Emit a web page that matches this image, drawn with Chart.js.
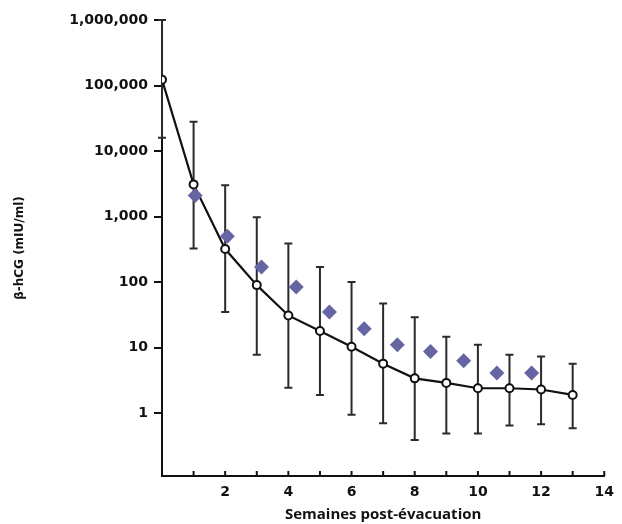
<!DOCTYPE html>
<html>
<head>
<meta charset="utf-8">
<script src="https://cdn.jsdelivr.net/npm/chart.js@4.4.0/dist/chart.umd.min.js"></script>
<style>
  html, body { margin: 0; padding: 0; background: #fff; }
  #wrap { width: 622px; height: 524px; position: relative; }
</style>
</head>
<body>
<div id="wrap"><canvas id="hcgChart"></canvas></div>
<script>
// semaines post-évacuation
const weeks = [0, 1, 2, 3, 4, 5, 6, 7, 8, 9, 10, 11, 12, 13];
// moyenne β-hCG (mIU/ml)
const meanHcg = [123000, 3100, 320, 90, 31, 18, 10.3, 5.7, 3.4, 2.9, 2.4, 2.4, 2.3, 1.9];
const upperHcg = [1000000, 28000, 3000, 980, 390, 170, 100, 47, 29, 14.7, 11.1, 7.8, 7.3, 5.7];
const lowerHcg = [16000, 325, 35, 7.8, 2.45, 1.9, 0.95, 0.7, 0.39, 0.49, 0.49, 0.65, 0.68, 0.59];
// patiente (losanges)
const patientWeeks = [1.05, 2.07, 3.15, 4.25, 5.3, 6.4, 7.45, 8.5, 9.55, 10.6, 11.7];
const patientHcg = [2100, 500, 170, 84, 35, 19.5, 11.1, 8.7, 6.3, 4.1, 4.1];
const yTickValues = [1, 10, 100, 1000, 10000, 100000, 1000000];

const TICK_FONT = { family: "'DejaVu Sans', sans-serif", size: 14, weight: 'bold' };

const errorBarsPlugin = {
    id: 'errorBars',
    beforeDatasetsDraw(chart) {
        const { ctx, scales: { x, y } } = chart;
        ctx.save();
        ctx.strokeStyle = '#2a2a2a';
        ctx.lineWidth = 2;
        weeks.forEach((w, i) => {
            const xPos = x.getPixelForValue(w);
            const yTop = y.getPixelForValue(upperHcg[i]);
            const yBot = y.getPixelForValue(lowerHcg[i]);
            ctx.beginPath();
            ctx.moveTo(xPos, yTop);
            ctx.lineTo(xPos, yBot);
            ctx.moveTo(xPos - 4, yTop);
            ctx.lineTo(xPos + 4, yTop);
            ctx.moveTo(xPos - 4, yBot);
            ctx.lineTo(xPos + 4, yBot);
            ctx.stroke();
        });
        ctx.restore();
    }
};

// small tick marks pointing up into the plot on the x axis
const innerTicksPlugin = {
    id: 'innerTicks',
    afterDraw(chart) {
        const { ctx, scales: { x } } = chart;
        ctx.save();
        ctx.strokeStyle = '#111';
        ctx.lineWidth = 2;
        x.ticks.forEach(t => {
            if (t.value <= 0) return;
            const xPos = x.getPixelForValue(t.value);
            ctx.beginPath();
            ctx.moveTo(xPos, x.top);
            ctx.lineTo(xPos, x.top - 5);
            ctx.stroke();
        });
        ctx.restore();
    }
};

new Chart(document.getElementById('hcgChart').getContext('2d'), {
    type: 'scatter',
    data: {
        datasets: [
            {
                label: 'Moyenne',
                data: weeks.map((w, i) => ({ x: w, y: meanHcg[i] })),
                showLine: true,
                borderColor: '#111',
                borderWidth: 2.2,
                pointRadius: 4,
                pointBorderWidth: 2,
                pointBackgroundColor: '#fff',
                pointBorderColor: '#111',
                order: 2
            },
            {
                label: 'Patiente',
                data: patientWeeks.map((w, i) => ({ x: w, y: patientHcg[i] })),
                pointStyle: 'rectRot',
                pointRadius: 7.5,
                pointBackgroundColor: '#6565a3',
                pointBorderColor: '#6565a3',
                pointBorderWidth: 0,
                order: 1
            }
        ]
    },
    options: {
        responsive: true,
        maintainAspectRatio: false,
        animation: false,
        layout: { padding: { top: 20, right: 8, left: 0, bottom: 0 } },
        plugins: {
            legend: { display: false },
            tooltip: { enabled: false }
        },
        scales: {
            x: {
                type: 'linear',
                min: 0,
                max: 14,
                afterFit(scale) { scale.height = 48; },
                border: { display: true, color: '#111', width: 2 },
                grid: { display: true, drawOnChartArea: false, drawTicks: false },
                ticks: {
                    stepSize: 1,
                    padding: 8,
                    autoSkip: false,
                    maxRotation: 0,
                    color: '#111',
                    font: TICK_FONT,
                    callback: v => (v > 0 && v % 2 === 0) ? String(v) : ''
                },
                title: {
                    display: true,
                    text: 'Semaines post-évacuation',
                    color: '#111',
                    padding: { top: 0, bottom: 0 },
                    font: { family: "'Open Sans', sans-serif", size: 15, weight: 'bold' }
                }
            },
            y: {
                type: 'logarithmic',
                min: 0.11,
                max: 1000000,
                afterFit(scale) { scale.width = 162; },
                afterBuildTicks(scale) {
                    scale.ticks = yTickValues.map(v => ({ value: v }));
                },
                border: { display: true, color: '#111', width: 2 },
                grid: { display: true, drawOnChartArea: false, drawTicks: true, tickLength: 8, color: '#111', lineWidth: 2 },
                ticks: {
                    padding: 6,
                    color: '#111',
                    font: TICK_FONT,
                    callback: v => Number(v).toLocaleString('en-US')
                },
                title: {
                    display: true,
                    text: 'β-hCG (mIU/ml)',
                    color: '#111',
                    padding: { top: 13, bottom: 0 },
                    font: { family: "'DejaVu Sans', sans-serif", size: 12, weight: 'bold' }
                }
            }
        }
    },
    plugins: [errorBarsPlugin, innerTicksPlugin]
});
</script>
</body>
</html>
